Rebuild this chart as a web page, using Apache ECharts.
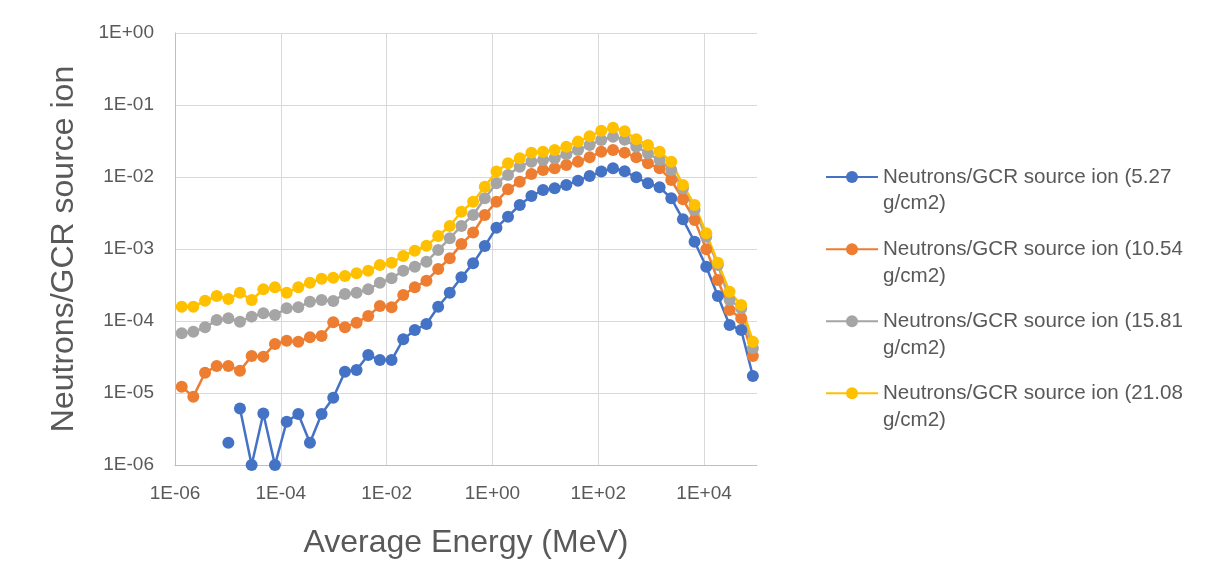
<!DOCTYPE html>
<html>
<head>
<meta charset="utf-8">
<script src="https://cdn.jsdelivr.net/npm/echarts@6/dist/echarts.min.js"></script>
<style>
html,body{margin:0;padding:0;background:#fff;}
#chart{width:1209px;height:588px;}
</style>
</head>
<body>
<div id="chart"></div>
<script>
// Average energy of each bin (MeV)
const energy = [1.34e-6, 2.22e-6, 3.70e-6, 6.14e-6, 1.02e-5, 1.69e-5, 2.81e-5, 4.67e-5, 7.75e-5, 1.29e-4,
  2.14e-4, 3.55e-4, 5.90e-4, 9.79e-4, 1.63e-3, 2.70e-3, 4.49e-3, 7.45e-3, 1.24e-2, 2.06e-2,
  3.41e-2, 5.66e-2, 9.42e-2, 0.156, 0.259, 0.431, 0.716, 1.19, 1.97, 3.28,
  5.45, 9.04, 15.0, 24.9, 41.4, 68.8, 114, 190, 315, 523,
  869, 1443, 2397, 3981, 6607, 1.10e4, 1.82e4, 3.03e4, 5.03e4, 8.36e4];

const n527 = [null, null, null, null, 2.04e-6, 6.1e-6, 1.0e-6, 5.2e-6, 1.0e-6, 4.0e-6,
  5.1e-6, 2.04e-6, 5.1e-6, 8.6e-6, 1.98e-5, 2.08e-5, 3.37e-5, 2.87e-5, 2.87e-5, 5.56e-5,
  7.5e-5, 9.08e-5, 1.58e-4, 2.47e-4, 4.04e-4, 6.32e-4, 1.10e-3, 1.98e-3, 2.81e-3, 4.09e-3,
  5.44e-3, 6.6e-3, 6.97e-3, 7.74e-3, 8.89e-3, 1.03e-2, 1.19e-2, 1.32e-2, 1.2e-2, 9.9e-3,
  8.17e-3, 7.2e-3, 5.06e-3, 2.58e-3, 1.26e-3, 5.68e-4, 2.22e-4, 8.8e-5, 7.5e-5, 1.72e-5];
// the 5.27 g/cm2 curve is not joined between these two bins
const n527BreakAfter = 4;

const n1054 = [1.22e-5, 8.9e-6, 1.91e-5, 2.37e-5, 2.37e-5, 2.04e-5, 3.27e-5, 3.2e-5, 4.8e-5, 5.33e-5,
  5.16e-5, 5.93e-5, 6.19e-5, 9.6e-5, 8.17e-5, 9.48e-5, 1.17e-4, 1.62e-4, 1.55e-4, 2.30e-4,
  2.94e-4, 3.63e-4, 5.27e-4, 7.41e-4, 1.17e-3, 1.69e-3, 2.97e-3, 4.54e-3, 6.75e-3, 8.61e-3,
  1.10e-2, 1.25e-2, 1.32e-2, 1.47e-2, 1.63e-2, 1.88e-2, 2.25e-2, 2.37e-2, 2.18e-2, 1.88e-2,
  1.55e-2, 1.32e-2, 9.09e-3, 4.90e-3, 2.53e-3, 9.89e-4, 3.71e-4, 1.42e-4, 1.09e-4, 3.27e-5];

const n1581 = [6.75e-5, 7.11e-5, 8.17e-5, 1.03e-4, 1.09e-4, 9.79e-5, 1.15e-4, 1.28e-4, 1.21e-4, 1.50e-4,
  1.55e-4, 1.85e-4, 1.96e-4, 1.9e-4, 2.37e-4, 2.47e-4, 2.75e-4, 3.40e-4, 3.92e-4, 5.0e-4,
  5.68e-4, 6.67e-4, 9.68e-4, 1.41e-3, 2.09e-3, 2.97e-3, 5.06e-3, 8.17e-3, 1.07e-2, 1.39e-2,
  1.63e-2, 1.72e-2, 1.82e-2, 2.07e-2, 2.37e-2, 2.78e-2, 3.27e-2, 3.63e-2, 3.30e-2, 2.64e-2,
  2.13e-2, 1.72e-2, 1.25e-2, 6.97e-3, 3.48e-3, 1.48e-3, 6.0e-4, 1.96e-4, 1.50e-4, 4.2e-5];

const n2108 = [1.58e-4, 1.58e-4, 1.91e-4, 2.22e-4, 2.02e-4, 2.47e-4, 1.96e-4, 2.75e-4, 2.94e-4, 2.47e-4,
  2.94e-4, 3.40e-4, 3.85e-4, 4.0e-4, 4.22e-4, 4.59e-4, 5.0e-4, 6.0e-4, 6.46e-4, 8.0e-4,
  9.48e-4, 1.11e-3, 1.52e-3, 2.09e-3, 3.30e-3, 4.54e-3, 7.34e-3, 1.19e-2, 1.55e-2, 1.82e-2,
  2.18e-2, 2.25e-2, 2.37e-2, 2.64e-2, 3.10e-2, 3.67e-2, 4.38e-2, 4.84e-2, 4.33e-2, 3.34e-2,
  2.78e-2, 2.25e-2, 1.63e-2, 7.74e-3, 4.09e-3, 1.65e-3, 6.46e-4, 2.55e-4, 1.67e-4, 5.16e-5];

const seriesNames = [
  'Neutrons/GCR source ion (5.27 g/cm2)',
  'Neutrons/GCR source ion (10.54 g/cm2)',
  'Neutrons/GCR source ion (15.81 g/cm2)',
  'Neutrons/GCR source ion (21.08 g/cm2)'
];
const xTickLabels = ['1E-06', '1E-04', '1E-02', '1E+00', '1E+02', '1E+04'];
const yTickLabels = ['1E-06', '1E-05', '1E-04', '1E-03', '1E-02', '1E-01', '1E+00'];
const xTitle = 'Average Energy (MeV)';
const yTitle = 'Neutrons/GCR source ion';

const colors = ['#4472C4', '#ED7D31', '#A5A5A5', '#FFC000'];
const FONT = '"Liberation Sans", Arial, sans-serif';
const TXT = '#595959';

function pairs(vals, from, to) {
  const out = [];
  for (let i = from; i <= to; i++) out.push([energy[i], vals[i]]);
  return out;
}
function lineSeries(name, color, data) {
  return {
    name: name, type: 'line', data: data,
    symbol: 'circle', symbolSize: 12, clip: false,
    connectNulls: false,
    lineStyle: {color: color, width: 2.5},
    itemStyle: {color: color},
    emphasis: {disabled: true}
  };
}

const chart = echarts.init(document.getElementById('chart'), null, {renderer: 'canvas'});
chart.setOption({
  animation: false,
  backgroundColor: '#ffffff',
  color: colors,
  grid: {left: 175, top: 33, right: 452, bottom: 123, containLabel: false},
  legend: {
    orient: 'vertical', left: 825, top: 137, padding: 0,
    itemWidth: 52, itemHeight: 15, itemGap: -8,
    data: seriesNames,
    formatter: function (name) { return '\n' + name.replace(' g/cm2)', '\ng/cm2)'); },
    textStyle: {fontFamily: FONT, fontSize: 20.6, color: TXT, lineHeight: 26.7}
  },
  xAxis: {
    type: 'log', logBase: 100, min: 1e-6, max: 1e5,
    name: xTitle, nameLocation: 'middle', nameGap: 62,
    nameTextStyle: {fontFamily: FONT, fontSize: 32, color: TXT},
    axisLine: {show: true, lineStyle: {color: '#bfbfbf', width: 1}},
    axisTick: {show: false},
    minorTick: {show: false},
    axisLabel: {
      fontFamily: FONT, fontSize: 19, color: TXT, margin: 19, showMaxLabel: false,
      formatter: function (v) {
        const e = Math.round(Math.log10(v));
        const idx = (e + 6) / 2;
        return xTickLabels[idx] !== undefined ? xTickLabels[idx] : '';
      }
    },
    splitLine: {show: true, showMaxLine: false, lineStyle: {color: '#d9d9d9', width: 1}}
  },
  yAxis: {
    type: 'log', logBase: 10, min: 1e-6, max: 1,
    name: yTitle, nameLocation: 'middle', nameGap: 95,
    nameTextStyle: {fontFamily: FONT, fontSize: 32, color: TXT},
    axisLine: {show: true, lineStyle: {color: '#bfbfbf', width: 1}},
    axisTick: {show: false},
    minorTick: {show: false},
    axisLabel: {
      fontFamily: FONT, fontSize: 19, color: TXT, margin: 21,
      formatter: function (v) {
        const e = Math.round(Math.log10(v));
        const t = yTickLabels[e + 6];
        return t !== undefined ? t : '';
      }
    },
    splitLine: {show: true, lineStyle: {color: '#d9d9d9', width: 1}}
  },
  series: [
    lineSeries(seriesNames[0], colors[0], pairs(n527, 0, n527BreakAfter)),
    lineSeries(seriesNames[0], colors[0], pairs(n527, n527BreakAfter + 1, energy.length - 1)),
    lineSeries(seriesNames[1], colors[1], pairs(n1054, 0, energy.length - 1)),
    lineSeries(seriesNames[2], colors[2], pairs(n1581, 0, energy.length - 1)),
    lineSeries(seriesNames[3], colors[3], pairs(n2108, 0, energy.length - 1))
  ]
});
</script>
</body>
</html>
